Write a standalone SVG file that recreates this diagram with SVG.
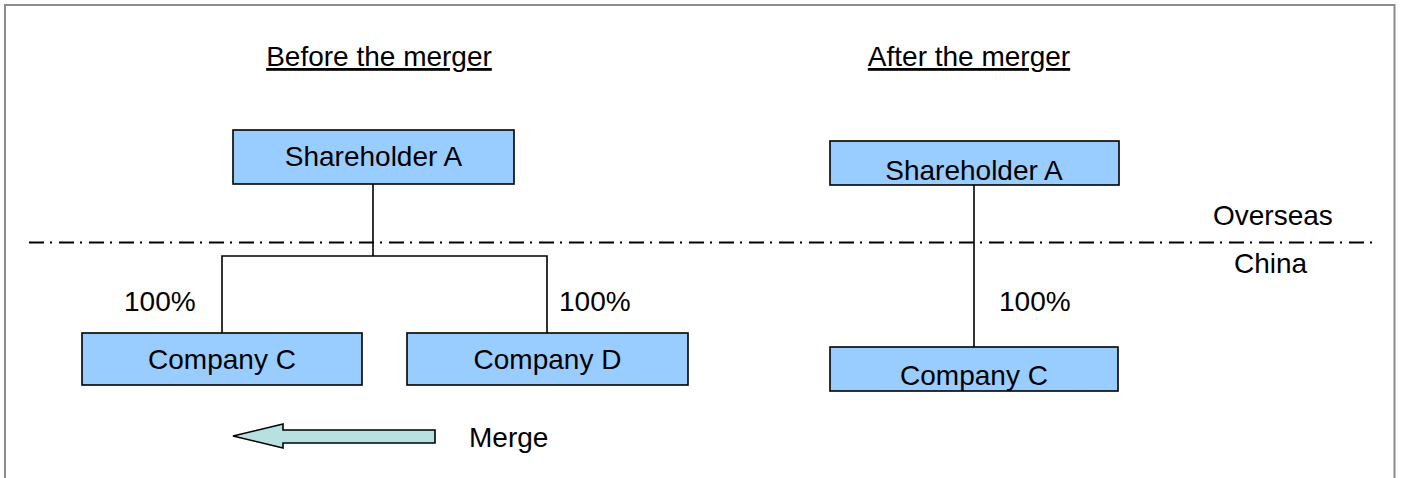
<svg xmlns="http://www.w3.org/2000/svg" width="1402" height="478" viewBox="0 0 1402 478">
  <style>
    .box { fill: #99ccff; stroke: #000; stroke-width: 1.6; }
    .lbl { font-family: "Liberation Sans", Arial, sans-serif; font-size: 28px; fill: #000; }
    .mid { text-anchor: middle; }
    .head { text-decoration: underline; }
    .link { fill: none; stroke: #000; stroke-width: 1.6; }
  </style>

  <rect x="0" y="0" width="1402" height="478" fill="#fff"/>
  <!-- outer frame, open at the bottom edge -->
  <rect x="5" y="5" width="1389.5" height="490" fill="none" stroke="#8c8c8c" stroke-width="2"/>

  <!-- headings -->
  <text class="lbl head mid" x="379" y="66">Before the merger</text>
  <text class="lbl head mid" x="969" y="66">After the merger</text>

  <!-- border between jurisdictions -->
  <line x1="29" y1="242.5" x2="1375" y2="242.5" stroke="#000" stroke-width="1.8" stroke-dasharray="15 6 2 7"/>
  <text class="lbl" x="1213" y="225">Overseas</text>
  <text class="lbl" x="1234" y="273">China</text>

  <!-- connectors -->
  <g id="connectors">
    <polyline class="link" points="373,184 373,256"/>
    <polyline class="link" points="222,333 222,256 547,256 547,333"/>
    <polyline class="link" points="974,185 974,347"/>
  </g>

  <!-- ownership percentages -->
  <text class="lbl" x="124" y="311">100%</text>
  <text class="lbl" x="559" y="311">100%</text>
  <text class="lbl" x="999" y="311">100%</text>

  <!-- before the merger -->
  <g id="shareholder-a-before">
    <rect class="box" x="233" y="130" width="281" height="54"/>
    <text class="lbl mid" x="373.5" y="166">Shareholder A</text>
  </g>
  <g id="company-c-before">
    <rect class="box" x="82" y="333" width="280" height="52"/>
    <text class="lbl mid" x="222" y="369">Company C</text>
  </g>
  <g id="company-d">
    <rect class="box" x="407" y="333" width="281" height="52"/>
    <text class="lbl mid" x="547.5" y="369">Company D</text>
  </g>

  <!-- after the merger -->
  <g id="shareholder-a-after">
    <rect class="box" x="830" y="141" width="289" height="44"/>
    <text class="lbl mid" x="974" y="180">Shareholder A</text>
  </g>
  <g id="company-c-after">
    <rect class="box" x="830" y="347" width="288" height="44"/>
    <text class="lbl mid" x="974" y="385">Company C</text>
  </g>

  <!-- merge arrow -->
  <g id="merge">
    <polygon points="233,436 283,424 283,430 435,430 435,443 283,443 283,448" fill="#b7e0e0" stroke="#000" stroke-width="1.6" stroke-linejoin="miter"/>
    <text class="lbl" x="469" y="447">Merge</text>
  </g>
</svg>
